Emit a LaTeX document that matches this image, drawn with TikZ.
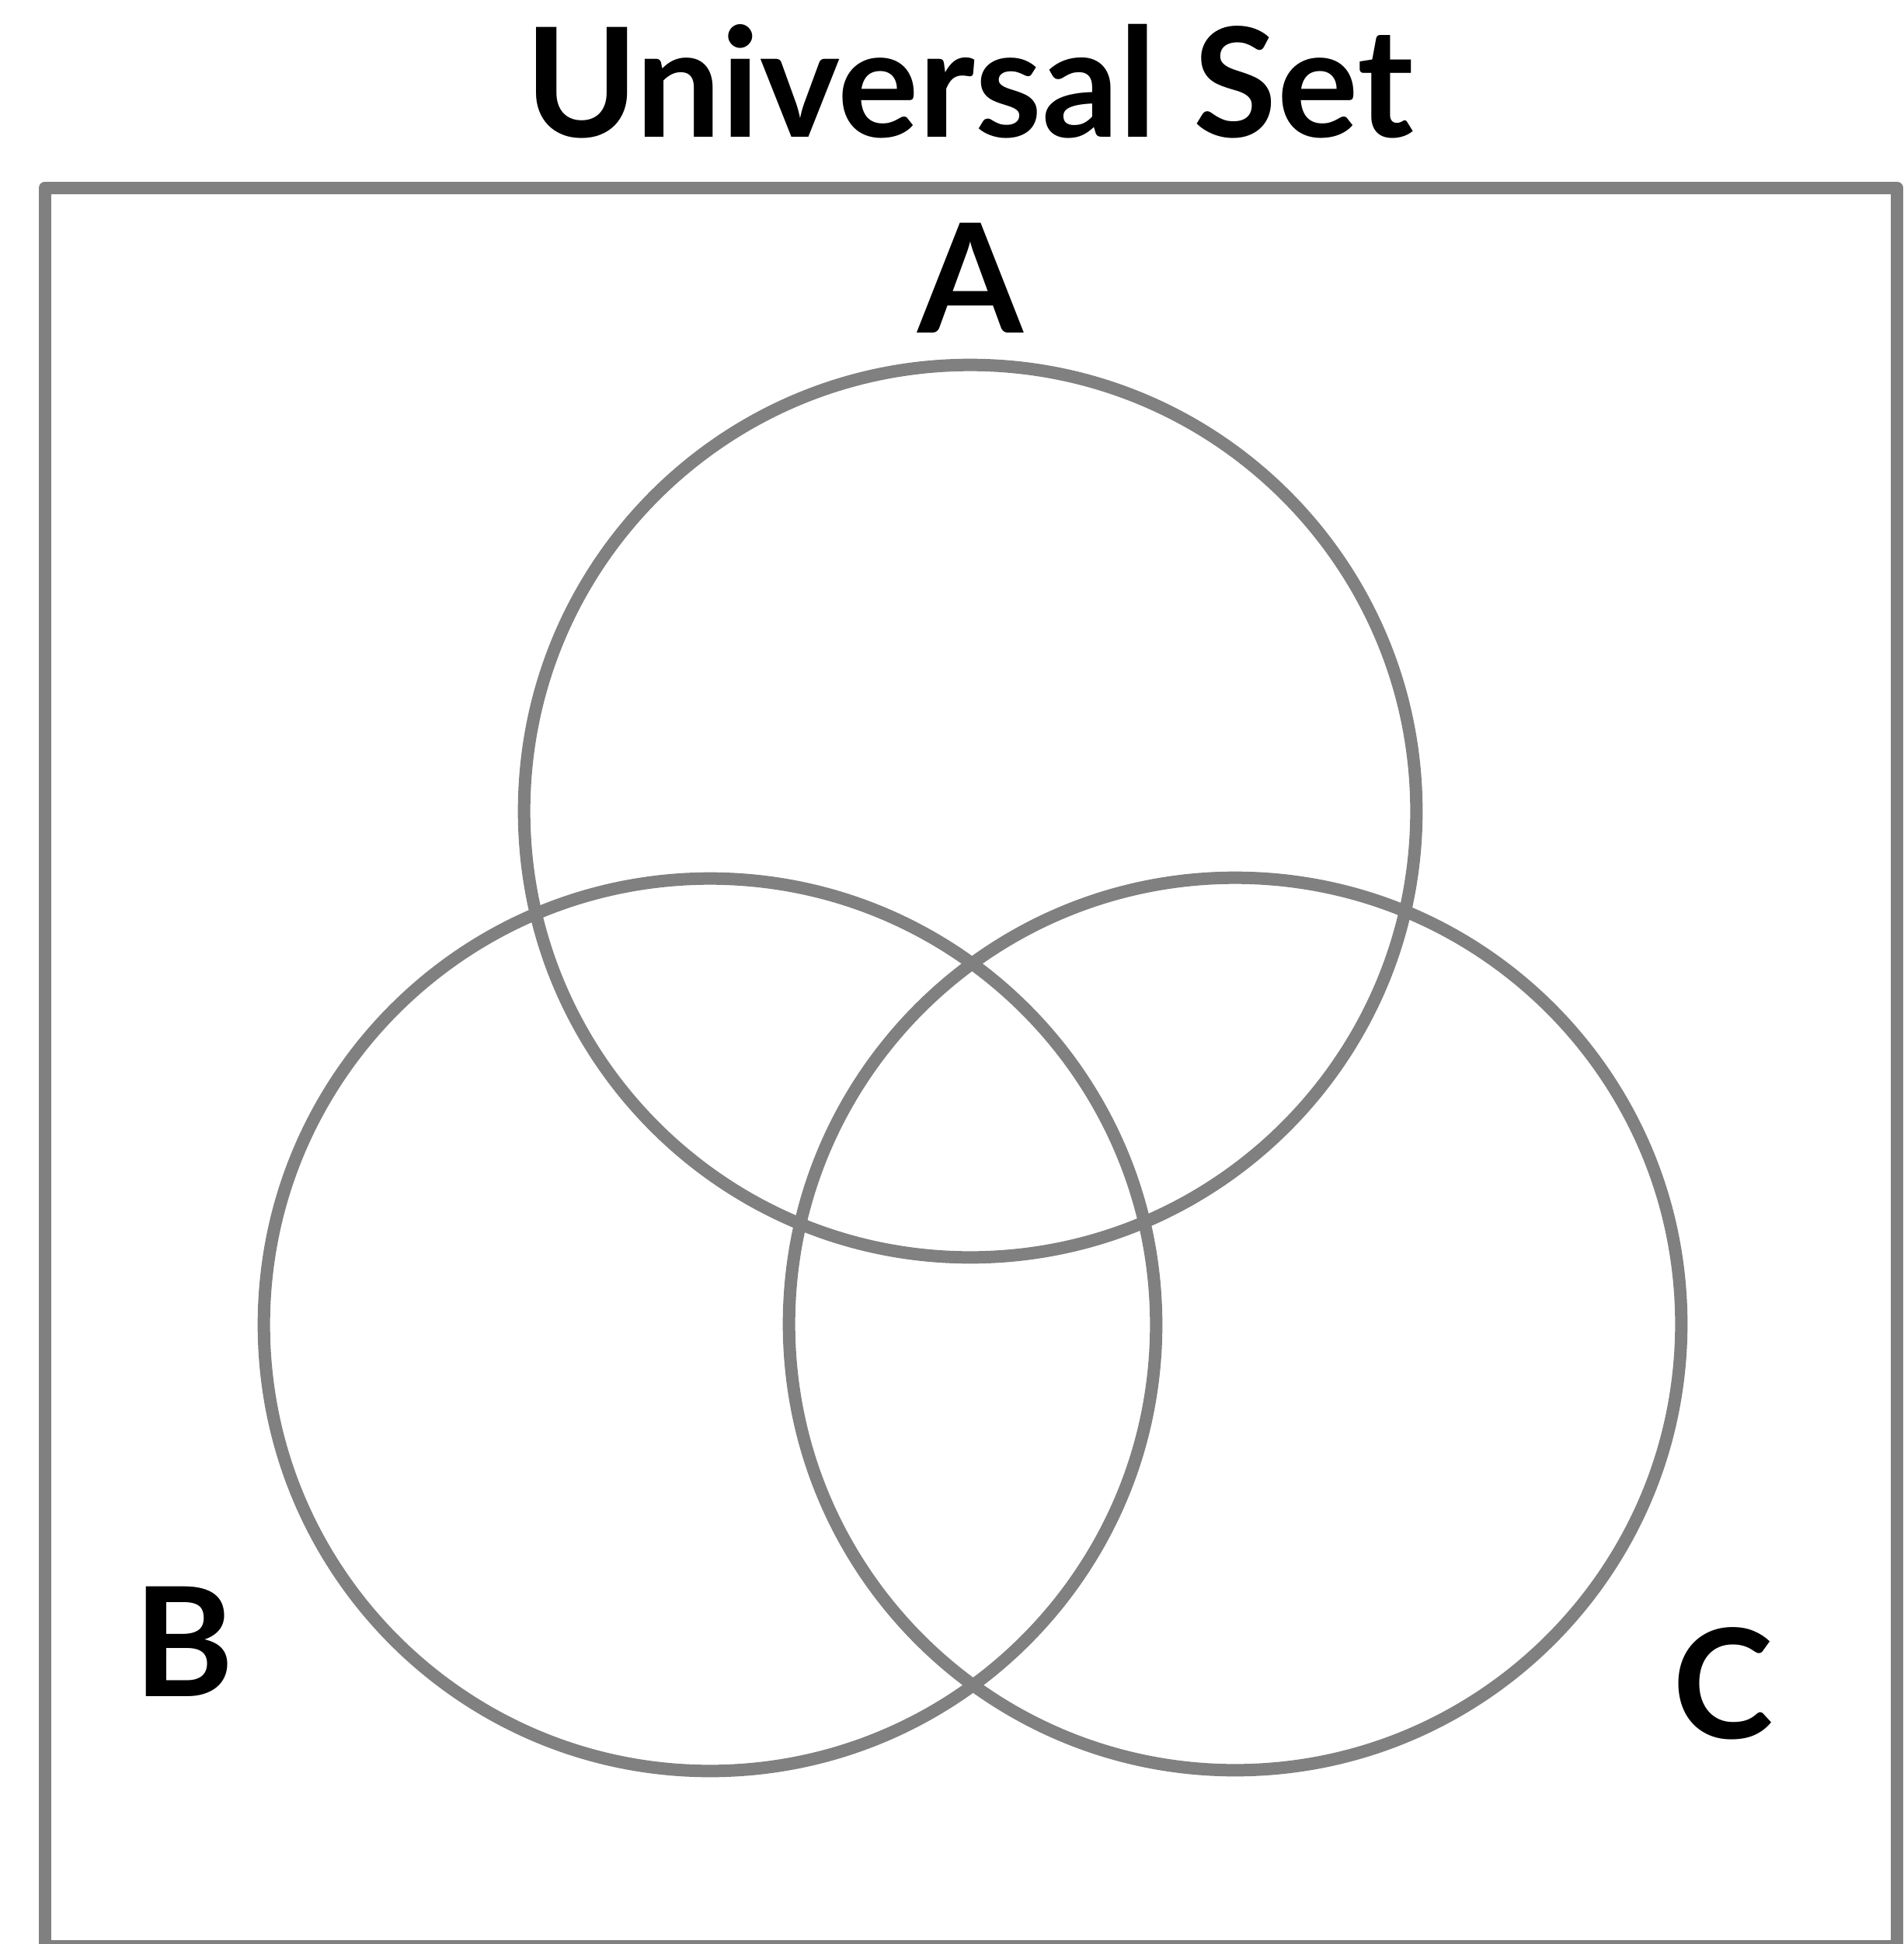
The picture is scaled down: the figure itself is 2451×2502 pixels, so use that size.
\documentclass[tikz,border=0pt]{standalone}
\usepackage{fontspec}
\setmainfont{Lato}
\definecolor{setgray}{RGB}{128,128,128}
\tikzset{
  setline/.style={draw=setgray, line width=4.55pt},
  setcircle/.style={setline, circle, minimum size=11.48cm, inner sep=0pt},
  lbl/.style={anchor=base, inner sep=0pt, font=\fontsize{55.6}{60}\selectfont\bfseries, text=black}
}
\begin{document}
\begin{tikzpicture}[x=0.01cm,y=-0.01cm]
\useasboundingbox (0,0) rectangle (2451,2502);
\draw[setline, line join=round] (58,241.5) rectangle (2442,2505);
\node[setcircle] (A) at (1249,1044) {};
\node[setcircle] (B) at (914,1705) {};
\node[setcircle] (C) at (1590,1704) {};
\node[lbl] (title) at (1248,176) {Universal Set};
\node[lbl] (la) at (1249.5,428) {A};
\node[lbl] (lb) at (237,2183) {B};
\node[lbl] (lc) at (2218,2237) {C};
\end{tikzpicture}
\end{document}
